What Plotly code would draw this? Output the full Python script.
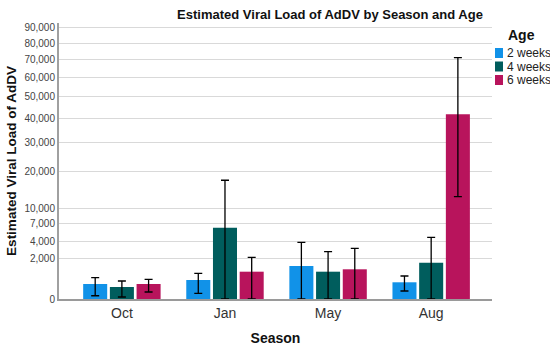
import numpy as np
import plotly.graph_objects as go

seasons = ["Oct", "Jan", "May", "Aug"]
ages = ["2 weeks", "4 weeks", "6 weeks"]
colors = ["#1192e8", "#005d5d", "#b8145c"]

# Estimated viral load (mean) and CI bounds per age group, by season
mean_2w = [276, 443, 1335, 342]
upper_2w = [556, 809, 3940, 648]
lower_2w = [13, 40, 0, 78]

mean_4w = [176, 6230, 914, 1615]
upper_4w = [397, 17270, 2742, 4665]
lower_4w = [5, 0, 0, 0]

mean_6w = [276, 914, 1081, 41810]
upper_6w = [475, 2133, 3150, 71350]
lower_6w = [60, 0, 0, 12830]

tick_values = [0, 2000, 4000, 7000, 10000, 20000, 30000, 40000, 50000,
               60000, 70000, 80000, 90000]
tick_labels = [f"{v:,}" for v in tick_values]

series = [
    (mean_2w, upper_2w, lower_2w),
    (mean_4w, upper_4w, lower_4w),
    (mean_6w, upper_6w, lower_6w),
]

fig = go.Figure()
for name, color, (m, u, l) in zip(ages, colors, series):
    m = np.array(m, float); u = np.array(u, float); l = np.array(l, float)
    sm = np.sqrt(m)
    fig.add_trace(go.Bar(
        x=seasons, y=sm, name=name,
        marker=dict(color=color, line=dict(width=0)),
        error_y=dict(type="data", symmetric=False,
                     array=np.sqrt(u) - sm, arrayminus=sm - np.sqrt(l),
                     color="black", thickness=1.3, width=4),
        showlegend=False,
    ))

L, R, T, B = 59, 58, 23, 48
W, H = 550, 347
pw = W - L - R
ph = H - T - B

fig.update_layout(
    width=W, height=H,
    margin=dict(l=L, r=R, t=T, b=B, autoexpand=False),
    paper_bgcolor="white", plot_bgcolor="white",
    barmode="group", bargap=0.223, bargroupgap=0.1,
    font=dict(family="Liberation Sans, Arial, sans-serif", color="#333"),
    title=dict(text="<b>Estimated Viral Load of AdDV by Season and Age</b>",
               x=330 / W, xref="container", xanchor="center",
               y=1 - 14 / H, yref="container", yanchor="middle",
               font=dict(size=13, color="#111")),
    xaxis=dict(range=[-0.61, 3.59], showgrid=False, showline=True,
               linecolor="#9a9a9a", linewidth=1.5, ticks="",
               tickfont=dict(size=14, color="#333"),
               title=dict(text="<b>Season</b>", font=dict(size=14, color="#111"),
                          standoff=14)),
    yaxis=dict(range=[0, 305.5], tickvals=np.sqrt(tick_values),
               ticktext=tick_labels, showgrid=True, gridcolor="#d9d9d9",
               gridwidth=1, showline=True, linecolor="#a0a0a0", linewidth=2,
               zeroline=False, ticks="", tickfont=dict(size=10, color="#444"),
               title=dict(text="<b>Estimated Viral Load of AdDV</b>",
                          font=dict(size=13.5, color="#111"), standoff=5)),
)

# Legend drawn manually in the right margin
fig.add_annotation(text="<b>Age</b>", xref="paper", yref="paper",
                   x=(506 - L) / pw, y=1 - (35 - T) / ph, xanchor="left",
                   yanchor="middle", showarrow=False,
                   font=dict(size=14, color="#111"))
for i, (name, color) in enumerate(zip(ages, colors)):
    yc = 53 + i * 13.5
    fig.add_shape(type="rect", xref="paper", yref="paper",
                  x0=(495 - L) / pw, x1=(503 - L) / pw,
                  y0=1 - (yc + 5 - T) / ph, y1=1 - (yc - 5 - T) / ph,
                  fillcolor=color, line=dict(width=0))
    fig.add_annotation(text=name, xref="paper", yref="paper",
                       x=(505 - L) / pw, y=1 - (yc - T) / ph,
                       xanchor="left", yanchor="middle", showarrow=False,
                       font=dict(size=12, color="#222"))

fig.write_html("out.html",
               config={"displayModeBar": False},
               post_script="document.body.style.margin='0';"
                           "document.body.style.overflow='hidden';")
